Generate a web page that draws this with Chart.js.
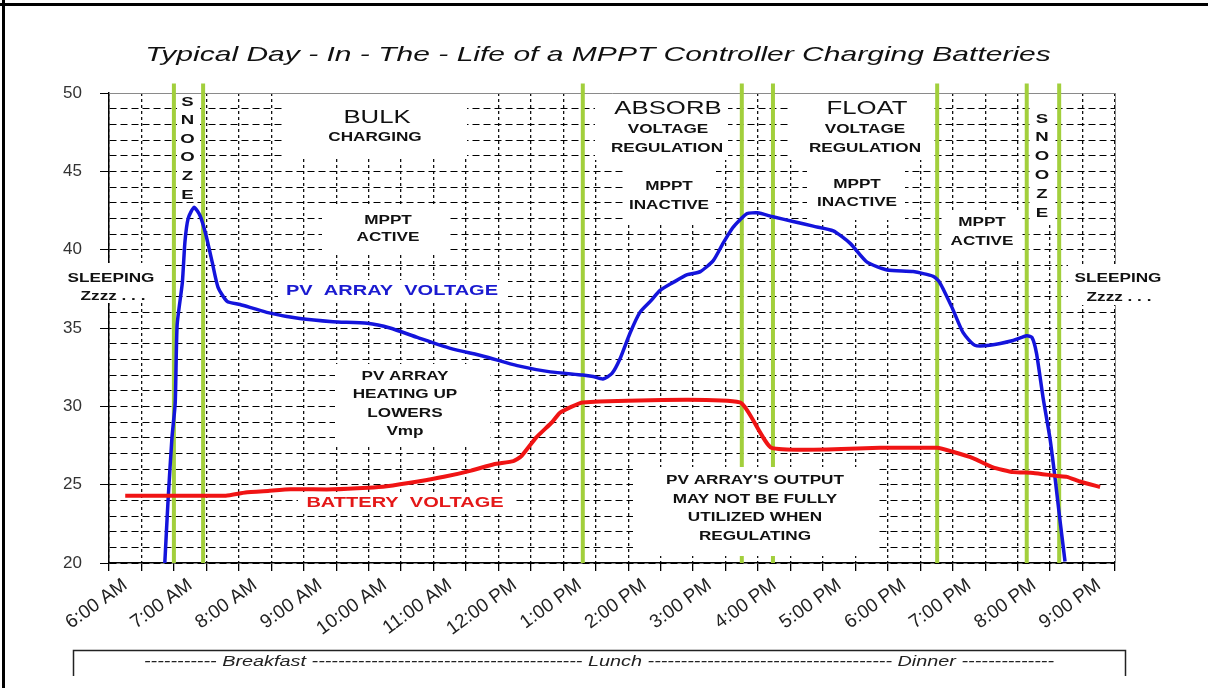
<!DOCTYPE html>
<html>
<head>
<meta charset="utf-8">
<script src="https://cdn.jsdelivr.net/npm/chart.js@4.4.1/dist/chart.umd.min.js"></script>
<style>
html,body{margin:0;padding:0;background:#fff;}
#wrap{width:1208px;height:688px;position:relative;}
</style>
</head>
<body>
<div id="wrap"><canvas id="c"></canvas></div>
<script>
// ---- data (x = hours after 6:00 AM) ----
const hourLabels = ['6:00 AM','7:00 AM','8:00 AM','9:00 AM','10:00 AM','11:00 AM','12:00 PM','1:00 PM','2:00 PM','3:00 PM','4:00 PM','5:00 PM','6:00 PM','7:00 PM','8:00 PM','9:00 PM'];
const voltTickValues = [20,21,22,23,24,25,26,27,28,29,30,31,32,33,34,35,36,37,38,39,40,41,42,43,44,45,46,47,48,49,50];
const halfHourTicks = [0,0.5,1,1.5,2,2.5,3,3.5,4,4.5,5,5.5,6,6.5,7,7.5,8,8.5,9,9.5,10,10.5,11,11.5,12,12.5,13,13.5,14,14.5,15];

const pvTime  = [0.61,0.66,0.72,0.77,0.80,0.88,0.92,0.97,1.06,1.15,1.24,1.34,1.43,1.57,1.77,2.18,2.69,3.20,3.73,4.08,4.50,5.01,5.52,6.04,6.55,7.05,7.21,7.36,7.50,7.62,7.78,7.93,8.09,8.24,8.44,8.66,8.86,9.06,9.21,9.36,9.47,9.58,9.74,9.98,10.29,10.60,10.91,11.17,11.43,11.74,12.14,12.45,12.55,12.74,12.91,13.09,13.32,13.68,13.89,13.97,14.04,14.14,14.25,14.33,14.40,14.48];
const pvVolts = [20,24,28,30.2,35.2,37.9,40.5,42.0,42.7,42.2,41.0,39.2,37.6,36.7,36.5,36.0,35.6,35.4,35.3,35.0,34.4,33.7,33.2,32.6,32.2,32.0,31.9,31.75,32.1,33.0,34.7,36.0,36.7,37.4,37.9,38.4,38.6,39.3,40.4,41.4,41.9,42.3,42.35,42.1,41.8,41.5,41.2,40.4,39.2,38.7,38.6,38.3,37.9,36.3,34.7,33.9,33.9,34.2,34.5,34.4,33.4,30.6,27.9,25.3,22.8,20.1];

const batteryTime  = [0,1.55,1.85,2.20,2.55,3.20,3.74,4.03,4.51,4.91,5.33,5.68,5.98,6.10,6.33,6.58,6.70,7.05,9.47,9.96,11.63,12.51,12.75,13.06,13.37,13.68,13.99,14.36,14.51,14.71,15.02];
const batteryVolts = [24.3,24.3,24.5,24.6,24.7,24.7,24.8,24.9,25.2,25.5,25.9,26.3,26.5,26.8,28.0,29.0,29.6,30.25,30.25,27.35,27.35,27.35,27.1,26.7,26.1,25.8,25.75,25.55,25.5,25.2,24.85];

const phaseBoundaries = [0.75,1.20,7.05,9.50,9.98,12.51,13.89,14.39];
const phaseLineBottom = 20;
const phaseLineTop = 50.6;

const titleText = 'Typical Day - In - The - Life of a MPPT Controller Charging Batteries';
const mealText = '-'.repeat(11) + ' Breakfast ' + '-'.repeat(41) + ' Lunch ' + '-'.repeat(37) + ' Dinner ' + '-'.repeat(14);

// ---- layout / styling of annotations (pixels) ----
const FAM = '"Liberation Sans", Arial, sans-serif';
const SX = 1.43; // horizontal stretch of the original picture's text
const whiteBoxes = [
  [177,94,200,202],[282,94,467,156],[322,205,450,253],[278,280,508,302],
  [335,364,490,444],[298,494,514,514],[55,263,165,303],
  [595,94,728,160],[625,160,716,224],[790,94,932,160],[807,160,905,220],
  [943,212,1020,258],[1031,94,1055,222],[1068,264,1172,305],[633,467,878,556]
];
const B12 = 'bold 12px ' + FAM;
const B13 = 'bold 13px ' + FAM;
const R18 = '18px ' + FAM;
const notes = [
  ['BULK',377,118,R18,'#111'],['CHARGING',375,138,B12,'#111'],
  ['MPPT',388,221,B12,'#111'],['ACTIVE',388,238,B12,'#111'],
  ['PV  ARRAY  VOLTAGE',392,291,'bold 14px '+FAM,'#1a1ad0'],
  ['PV ARRAY',405,377,B12,'#111'],['HEATING UP',405,395,B12,'#111'],['LOWERS',405,414,B12,'#111'],['Vmp',405,432,B12,'#111'],
  ['BATTERY  VOLTAGE',405,503,'bold 14px '+FAM,'#e41818'],
  ['SLEEPING',111,279,B12,'#111'],['Zzzz . . .',113,297,B12,'#111'],
  ['ABSORB',668,109,R18,'#111'],['VOLTAGE',668,130,B12,'#111'],['REGULATION',667,149,B12,'#111'],
  ['MPPT',669,187,B12,'#111'],['INACTIVE',669,206,B12,'#111'],
  ['FLOAT',867,109,R18,'#111'],['VOLTAGE',865,130,B12,'#111'],['REGULATION',865,149,B12,'#111'],
  ['MPPT',857,185,B12,'#111'],['INACTIVE',857,203,B12,'#111'],
  ['MPPT',982,223,B12,'#111'],['ACTIVE',982,242,B12,'#111'],
  ['SLEEPING',1118,279,B12,'#111'],['Zzzz . . .',1119,298,B12,'#111'],
  ["PV ARRAY'S OUTPUT",755,481,B12,'#111'],['MAY NOT BE FULLY',755,499.5,B12,'#111'],
  ['UTILIZED WHEN',755,518,B12,'#111'],['REGULATING',755,536.5,B12,'#111']
];
const snoozeLetters = ['S','N','O','O','Z','E'];
const snoozeColumns = [[187.5,102,18.6],[1042,119,18.8]];

function drawText(ctx, str, x, y, font, color, sx, align) {
  ctx.save();
  ctx.translate(x, y);
  ctx.scale(sx, 1);
  ctx.font = font;
  ctx.fillStyle = color;
  ctx.textAlign = align || 'center';
  ctx.textBaseline = 'middle';
  ctx.fillText(str, 0, 0);
  ctx.restore();
}

const decor = {
  id: 'decor',
  beforeDraw(chart) {
    const ctx = chart.ctx;
    ctx.save();
    ctx.fillStyle = '#fff';
    ctx.fillRect(0, 0, chart.width, chart.height);
    ctx.restore();
  },
  beforeDatasetsDraw(chart) {
    const {ctx, chartArea: a} = chart;
    ctx.save();
    ctx.strokeStyle = '#8a8a8a';
    ctx.lineWidth = 1;
    ctx.beginPath();
    ctx.moveTo(a.left, a.top + 0.5);
    ctx.lineTo(a.right + 0.5, a.top + 0.5);
    ctx.lineTo(a.right + 0.5, a.bottom);
    ctx.stroke();
    ctx.restore();
  },
  afterDatasetsDraw(chart) {
    const ctx = chart.ctx;
    ctx.save();
    ctx.fillStyle = '#fff';
    whiteBoxes.forEach(b => ctx.fillRect(b[0], b[1], b[2] - b[0], b[3] - b[1]));
    ctx.restore();
    notes.forEach(n => drawText(ctx, n[0], n[1], n[2], n[3], n[4], SX));
    snoozeColumns.forEach(c => snoozeLetters.forEach((L, i) => drawText(ctx, L, c[0], c[1] + i * c[2], B13, '#111', SX)));
    // title
    drawText(ctx, titleText, 598, 55, 'italic 21px ' + FAM, '#111', SX);
    // meal box
    ctx.save();
    ctx.strokeStyle = '#222';
    ctx.lineWidth = 1.5;
    ctx.beginPath();
    ctx.moveTo(73.5, 676); ctx.lineTo(73.5, 650.5); ctx.lineTo(1125.5, 650.5); ctx.lineTo(1125.5, 676);
    ctx.stroke();
    ctx.font = 'italic 14px ' + FAM;
    const w = ctx.measureText(mealText).width;
    ctx.restore();
    drawText(ctx, mealText, 144, 662, 'italic 14px ' + FAM, '#222', 910 / w, 'left');
    // outer frame
    ctx.save();
    ctx.fillStyle = '#000';
    ctx.fillRect(0, 3, chart.width, 3);
    ctx.fillRect(2, 0, 3, chart.height);
    ctx.restore();
  }
};

const datasets = [
  {
    label: 'Battery Voltage',
    data: batteryTime.map((t, i) => ({x: t, y: batteryVolts[i]})),
    borderColor: '#f01414', borderWidth: 4, pointRadius: 0, tension: 0.15, fill: false
  },
  {
    label: 'PV Array Voltage',
    data: pvTime.map((t, i) => ({x: t, y: pvVolts[i]})),
    borderColor: '#1414dc', borderWidth: 3.5, pointRadius: 0, tension: 0.2, fill: false, clip: false
  }
].concat(phaseBoundaries.map(t => ({
  label: 'phase',
  data: [{x: t, y: phaseLineBottom}, {x: t, y: phaseLineTop}],
  borderColor: '#a2cf3c', borderWidth: 4, pointRadius: 0, fill: false, clip: false
})));

new Chart(document.getElementById('c'), {
  type: 'line',
  data: {datasets},
  options: {
    responsive: true,
    maintainAspectRatio: false,
    animation: false,
    events: [],
    layout: {padding: {left: 0, top: 93, right: 93, bottom: 38}},
    plugins: {legend: {display: false}, tooltip: {enabled: false}, title: {display: false}},
    scales: {
      x: {
        type: 'linear', min: -0.25, max: 15.25,
        afterBuildTicks: s => { s.ticks = halfHourTicks.map(v => ({value: v})); },
        afterFit: s => { s.height = 87; },
        ticks: {
          autoSkip: false, minRotation: 36, maxRotation: 36, padding: 3,
          color: '#222', font: {family: FAM, size: 19},
          callback: v => Number.isInteger(v) ? hourLabels[v] : ''
        },
        grid: {offset: true, color: '#111', lineWidth: 1.3, tickLength: 8, tickColor: '#000'},
        border: {color: '#000', width: 1.5, dash: [3, 3]}
      },
      y: {
        type: 'linear', min: 20, max: 50,
        afterBuildTicks: s => { s.ticks = voltTickValues.map(v => ({value: v})); },
        afterFit: s => { s.width = 109; },
        ticks: {
          autoSkip: false, padding: 18, color: '#333', font: {family: FAM, size: 17},
          callback: v => (v % 5 === 0 ? String(v) : '')
        },
        grid: {
          color: '#000', lineWidth: 1, tickLength: 9,
          tickColor: c => (c.tick && c.tick.value % 5 === 0 ? '#000' : 'rgba(0,0,0,0)')
        },
        border: {color: '#000', width: 1.5, dash: [7, 4]}
      }
    }
  },
  plugins: [decor]
});
</script>
</body>
</html>
